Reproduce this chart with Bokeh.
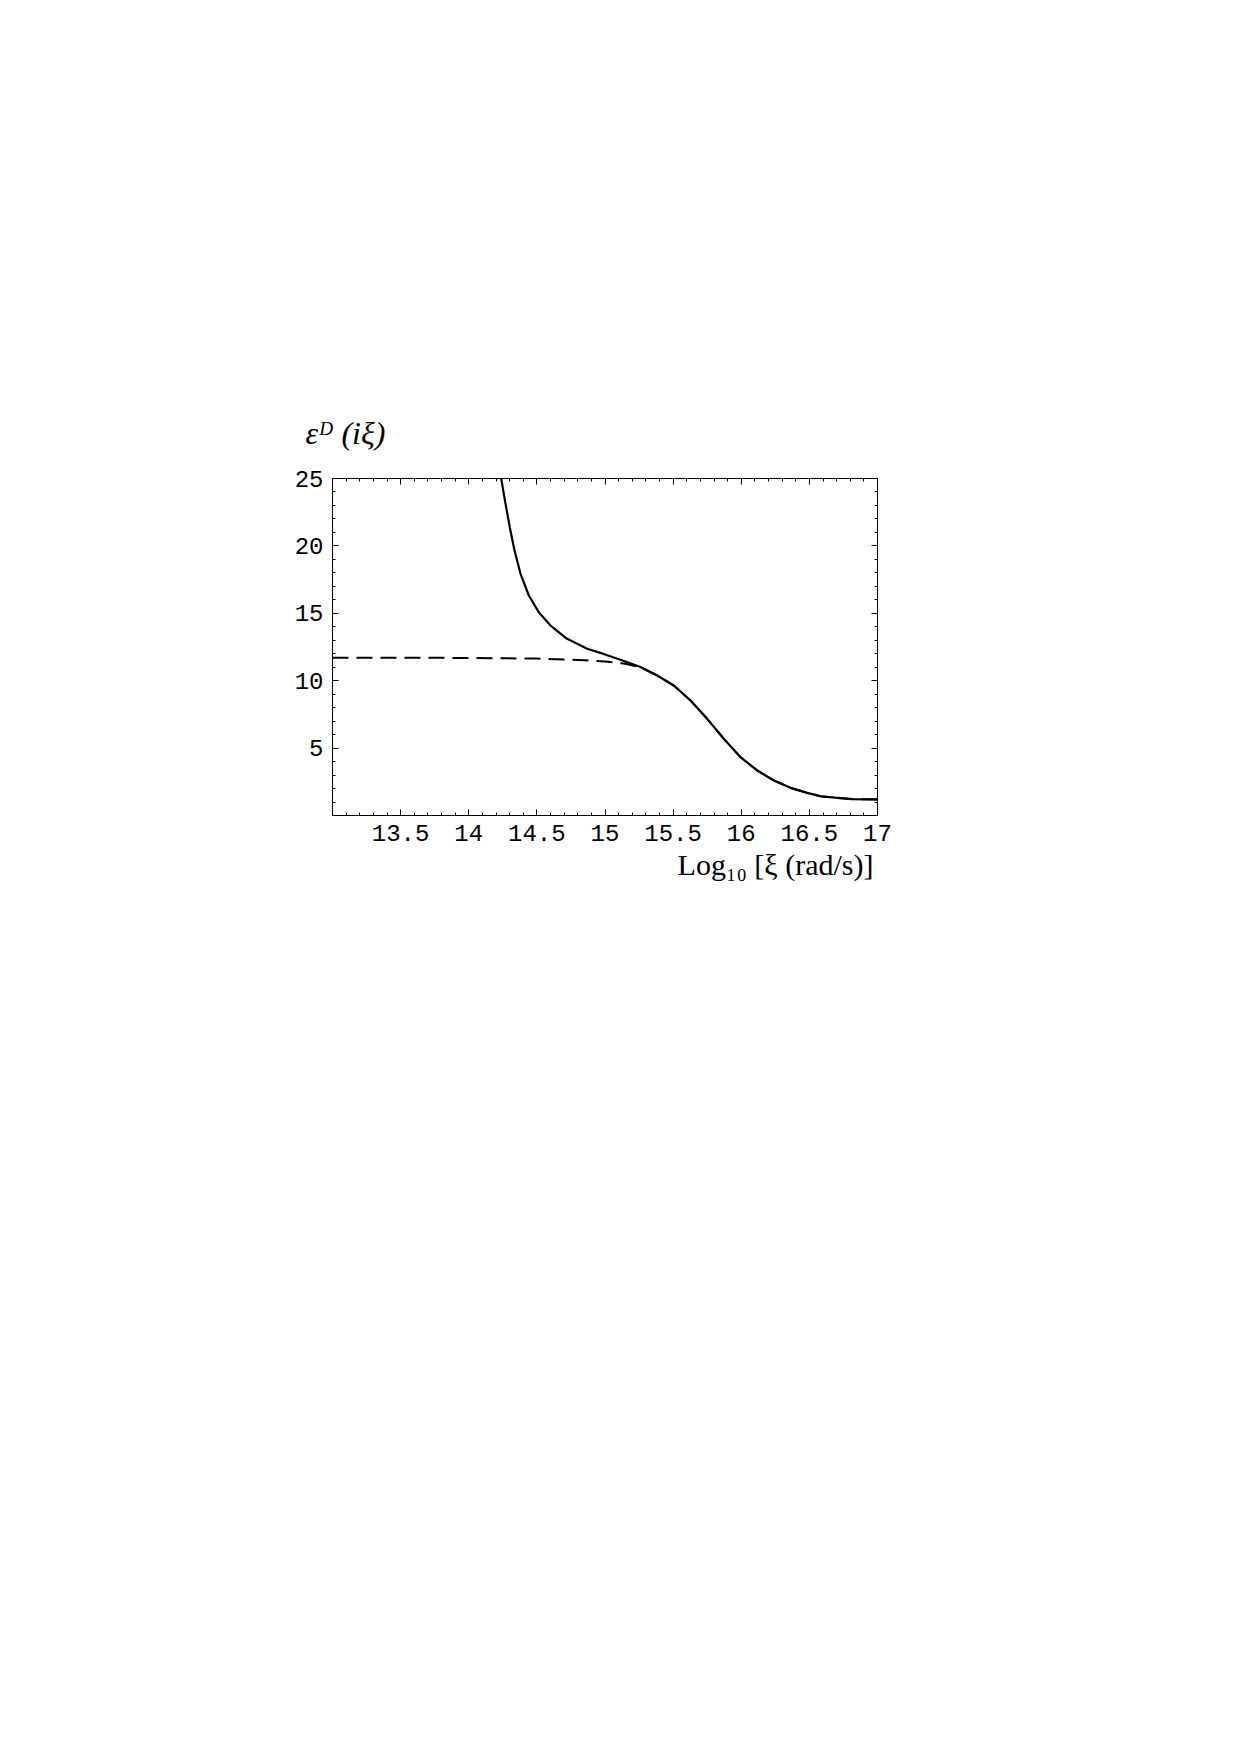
from bokeh.plotting import figure
from bokeh.models import Range1d, LinearAxis, FixedTicker, Title
from bokeh.embed import file_html
from bokeh.resources import INLINE

# Solid curve
solid_x = [14.238, 14.270, 14.301, 14.336, 14.380, 14.441, 14.514, 14.600, 14.722, 14.869,
           15.00, 15.07, 15.15, 15.26, 15.383, 15.505, 15.628, 15.750, 15.872, 15.994,
           16.117, 16.239, 16.361, 16.484, 16.581, 16.69, 16.81, 17.00]
solid_y = [25.0, 23.12, 21.39, 19.66, 17.93, 16.32, 15.08, 14.09, 13.11, 12.37,
           11.95, 11.70, 11.42, 11.02, 10.39, 9.64, 8.53, 7.17, 5.69, 4.33,
           3.34, 2.60, 2.05, 1.68, 1.43, 1.32, 1.22, 1.19]

# Dashed curve
dashed_x = [13.00, 13.50, 14.00, 14.50, 14.85, 15.00, 15.14, 15.26, 15.383, 15.505,
            15.628, 15.750, 15.872, 15.994, 16.117, 16.239, 16.361, 16.484, 16.581,
            16.69, 16.81, 17.00]
dashed_y = [11.70, 11.70, 11.69, 11.64, 11.52, 11.42, 11.27, 11.00, 10.39, 9.64,
            8.53, 7.17, 5.69, 4.33, 3.34, 2.60, 2.05, 1.68, 1.43,
            1.32, 1.22, 1.19]

x_ticks = [13.5, 14, 14.5, 15, 15.5, 16, 16.5, 17]
x_tick_labels = ["13.5", "14", "14.5", "15", "15.5", "16", "16.5", "17"]
y_ticks = [5, 10, 15, 20, 25]
y_tick_labels = ["5", "10", "15", "20", "25"]
y_label = "εᴰ (iξ)"
x_label = "Log₁₀ [ξ (rad/s)]"

x_minor = [round(13 + 0.1 * i, 1) for i in range(41)]
y_minor = list(range(0, 26))

serif = "Liberation Serif"
FRAME_W, FRAME_H = 545, 337
BL, BT, BR, BB = 332, 478, 100, 150

p = figure(
    width=BL + FRAME_W + BR, height=BT + FRAME_H + BB,
    frame_width=FRAME_W, frame_height=FRAME_H,
    x_range=Range1d(13, 17), y_range=Range1d(0, 25),
    output_backend="svg", toolbar_location=None,
    min_border_left=BL, min_border_top=BT,
    min_border_right=BR, min_border_bottom=BB,
    background_fill_color="white", border_fill_color="white",
)
p.grid.visible = False
p.outline_line_color = "black"
p.outline_line_width = 1


def style_axis(ax, ticks, minor, labels, show):
    ax.ticker = FixedTicker(ticks=ticks, minor_ticks=minor)
    if show:
        ax.major_label_overrides = {t: l for t, l in zip(ticks, labels)}
    else:
        ax.major_label_overrides = {t: "" for t in ticks}
    ax.major_tick_in = 6
    ax.major_tick_out = 0
    ax.minor_tick_in = 3
    ax.minor_tick_out = 0
    ax.major_tick_line_color = "black"
    ax.minor_tick_line_color = "black"
    ax.axis_line_color = "black"
    ax.major_label_text_font = "Liberation Mono"
    ax.major_label_text_font_size = "24px"
    ax.major_label_text_color = "black"
    ax.major_label_standoff = 9


style_axis(p.xaxis[0], x_ticks, x_minor, x_tick_labels, True)
style_axis(p.yaxis[0], y_ticks, y_minor, y_tick_labels, True)

top = LinearAxis()
style_axis(top, x_ticks, x_minor, x_tick_labels, False)
top.major_label_text_font_size = "1px"
top.major_label_standoff = 0
p.add_layout(top, "above")
right = LinearAxis()
style_axis(right, y_ticks, y_minor, y_tick_labels, False)
right.major_label_text_font_size = "1px"
right.major_label_standoff = 0
p.add_layout(right, "right")

p.line(dashed_x, dashed_y, line_color="black", line_width=2, line_dash="16 8")
p.line(solid_x, solid_y, line_color="black", line_width=2.2)

p.add_layout(Title(text=y_label, align="left", offset=-27, standoff=55,
                   text_font=serif, text_font_style="italic", text_font_size="32px",
                   text_color="black"), "above")
p.add_layout(Title(text=x_label, align="right", offset=4, standoff=4,
                   text_font=serif, text_font_style="normal", text_font_size="30px",
                   text_color="black"), "below")

open("out.html", "w").write(file_html(p, INLINE))
